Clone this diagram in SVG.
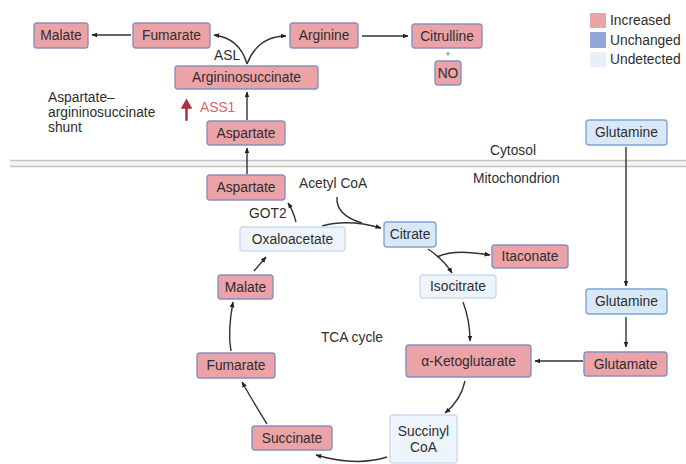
<svg xmlns="http://www.w3.org/2000/svg" width="686" height="464" viewBox="0 0 686 464">
<defs>
<marker id="ah" viewBox="0 0 10 10" refX="9" refY="5" markerWidth="6" markerHeight="6" orient="auto" markerUnits="userSpaceOnUse">
<path d="M0,1 L10,5 L0,9 z" fill="#222"/>
</marker>
<style>
text{font-family:"Liberation Sans",Arial,sans-serif;font-size:13.8px;fill:#2e2e2e}
.c text{text-anchor:middle;dominant-baseline:central}
.inc{fill:#eba3a8;stroke:#8790c0;stroke-width:1.4}
.unc{fill:#d8e8f7;stroke:#7fa6d6;stroke-width:1.4}
.und{fill:#eef4fb;stroke:#cadcf0;stroke-width:1.4}
.e{fill:none;stroke:#333;stroke-width:1.4;marker-end:url(#ah)}
</style>
</defs>
<rect width="686" height="464" fill="#fff"/>
<g id="membrane">
<rect x="10" y="160" width="676" height="7" fill="#f4f4f4"/>
<line x1="10" y1="160.5" x2="686" y2="160.5" stroke="#c4c4c4" stroke-width="1.3"/>
<line x1="10" y1="166.5" x2="686" y2="166.5" stroke="#c4c4c4" stroke-width="1.3"/>
</g>
<g id="connectors">
<path class="e" d="M131,35 L92,35"/>
<path class="e" d="M247,64 C242,46 230,37 214,35"/>
<path class="e" d="M247,64 C254,46 266,36 286,36"/>
<path class="e" d="M362,36 L408,36"/>
<path class="e" d="M247,120 L247,92"/>
<path class="e" d="M247,174 L247,148"/>
<path class="e" d="M296,222 C294,214 292,209 288,203"/>
<path fill="none" stroke="#333" stroke-width="1.4" d="M337,197 C336,210 345,218 362,223"/>
<path class="e" d="M322,226 C340,221 360,222 381,228"/>
<path class="e" d="M428,249 C440,257 447,265 452,273"/>
<path class="e" d="M437,257 C452,250 470,252 490,255"/>
<path class="e" d="M463,302 C468,315 470,328 470,341"/>
<path class="e" d="M465,381 C462,395 455,405 445,413"/>
<path class="e" d="M387,457 C365,464 340,462 316,455"/>
<path class="e" d="M267,424 C258,410 250,396 242,382"/>
<path class="e" d="M231,351 C228,335 230,318 233,302"/>
<path class="e" d="M254,271 L266,257"/>
<path class="e" d="M626,147 L626,286"/>
<path class="e" d="M626,317 L626,347"/>
<path class="e" d="M583,361 L535,361"/>
</g>
<g class="c">
<g id="malate-top"><rect class="inc" x="34" y="23" width="54" height="25" rx="3"/><text x="61" y="35.5">Malate</text></g>
<g id="fumarate-top"><rect class="inc" x="133" y="23" width="77" height="25" rx="3"/><text x="171.5" y="35.5">Fumarate</text></g>
<g id="arginine"><rect class="inc" x="290" y="23" width="68" height="25" rx="3"/><text x="324" y="35.5">Arginine</text></g>
<g id="citrulline"><rect class="inc" x="412" y="24" width="70" height="24" rx="3"/><text x="447" y="36">Citrulline</text></g>
<g id="no"><rect class="inc" x="435" y="61" width="26" height="24" rx="3"/><text x="448" y="73">NO</text></g>
<g id="argininosuccinate"><rect class="inc" x="175" y="66" width="143" height="23" rx="3"/><text x="246.5" y="77.5">Argininosuccinate</text></g>
<g id="aspartate-cyto"><rect class="inc" x="207" y="121" width="78" height="24" rx="3"/><text x="246" y="133">Aspartate</text></g>
<g id="aspartate-mito"><rect class="inc" x="207" y="175" width="78" height="25" rx="3"/><text x="246" y="187.5">Aspartate</text></g>
<g id="oxaloacetate"><rect class="und" x="240" y="227" width="105" height="24" rx="3"/><text x="292.5" y="239">Oxaloacetate</text></g>
<g id="citrate"><rect class="unc" x="384" y="222" width="52" height="25" rx="3"/><text x="410" y="234.5">Citrate</text></g>
<g id="itaconate"><rect class="inc" x="492" y="245" width="76" height="23" rx="3"/><text x="530" y="256.5">Itaconate</text></g>
<g id="isocitrate"><rect class="und" x="420" y="275" width="76" height="23" rx="3"/><text x="458" y="286.5">Isocitrate</text></g>
<g id="akg"><rect class="inc" x="406" y="345" width="125" height="32" rx="3"/><text x="468.5" y="361">α-Ketoglutarate</text></g>
<g id="succinyl-coa"><rect class="und" x="390" y="415" width="67" height="48" rx="3"/><text x="423.5" y="431">Succinyl</text><text x="423.5" y="447">CoA</text></g>
<g id="succinate"><rect class="inc" x="252" y="426" width="80" height="24" rx="3"/><text x="292" y="438">Succinate</text></g>
<g id="fumarate-mito"><rect class="inc" x="197" y="353" width="78" height="25" rx="3"/><text x="236" y="365.5">Fumarate</text></g>
<g id="malate-mito"><rect class="inc" x="218" y="275" width="55" height="24" rx="3"/><text x="245.5" y="287">Malate</text></g>
<g id="glutamine-cyto"><rect class="unc" x="586" y="120" width="81" height="25" rx="3"/><text x="626.5" y="132.5">Glutamine</text></g>
<g id="glutamine-mito"><rect class="unc" x="586" y="289" width="81" height="25" rx="3"/><text x="626.5" y="301.5">Glutamine</text></g>
<g id="glutamate"><rect class="inc" x="584" y="352" width="83" height="24" rx="3"/><text x="625.5" y="364">Glutamate</text></g>
</g>
<g id="labels">
<text x="448" y="57" text-anchor="middle" font-size="9" style="font-size:9px;fill:#666">+</text>
<text x="214" y="60">ASL</text>
<text x="48" y="102">Aspartate–</text>
<text x="48" y="117">argininosuccinate</text>
<text x="48" y="132">shunt</text>
<path d="M186,120 L186,108 L182,108 L186.5,100 L191,108 L187,108 L187,120 z" fill="#a8323e" stroke="#a8323e" stroke-width="1.5"/>
<text x="200" y="112" style="fill:#d9646e">ASS1</text>
<text x="249" y="218">GOT2</text>
<text x="299" y="188">Acetyl CoA</text>
<text x="490" y="155">Cytosol</text>
<text x="473" y="183">Mitochondrion</text>
<text x="352" y="342" text-anchor="middle">TCA cycle</text>
</g>
<g id="legend">
<rect x="590" y="13" width="16" height="15" fill="#eba3a8"/>
<rect x="590" y="32" width="16" height="16" fill="#93a6d8"/>
<rect x="590" y="52" width="16" height="15" fill="#e8eff8"/>
<text x="610" y="25">Increased</text>
<text x="610" y="45">Unchanged</text>
<text x="610" y="64">Undetected</text>
</g>
</svg>
